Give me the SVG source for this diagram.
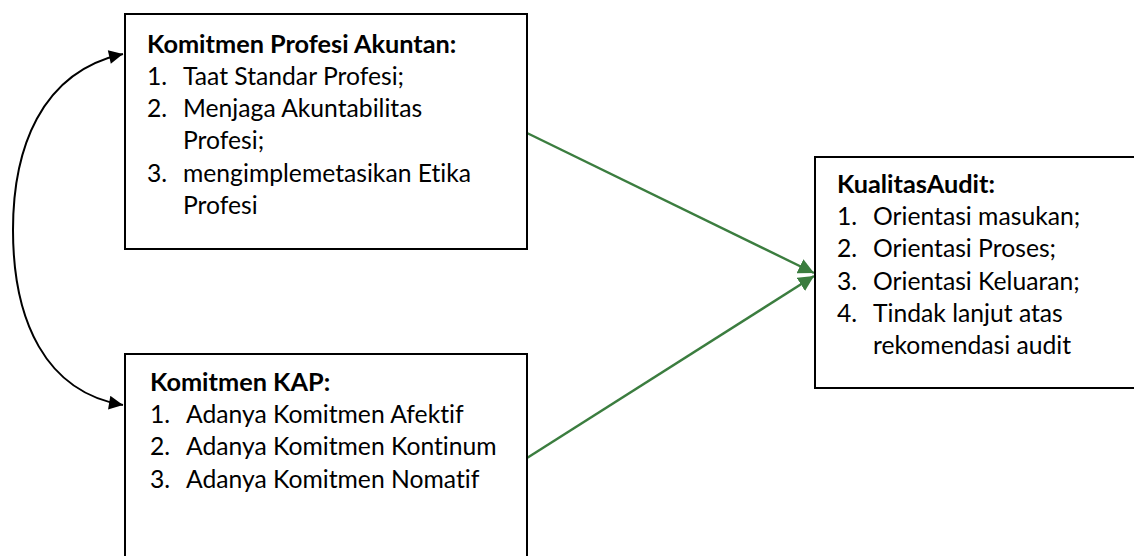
<svg xmlns="http://www.w3.org/2000/svg" width="1134" height="556" viewBox="0 0 1134 556">
  <style>
    .box { fill: #ffffff; stroke: #000000; stroke-width: 2; }
    .t { font-family: Lato, "Open Sans", "Liberation Sans", sans-serif; font-size: 24.7px; fill: #000000; font-variant-ligatures: none; font-feature-settings: "liga" 0, "clig" 0; }
    .h { font-weight: bold; font-size: 25.3px; }
    .link { fill: none; stroke: #3b7d3f; stroke-width: 2.4; }
    .bi { fill: none; stroke: #000000; stroke-width: 2; }
  </style>
  <defs>
    <marker id="arrowGreen" viewBox="0 0 10 10" refX="10" refY="5" markerWidth="6.5" markerHeight="6.5" markerUnits="strokeWidth" orient="auto">
      <path d="M0,0 L10,5 L0,10 Z" fill="#3b7d3f"/>
    </marker>
    <marker id="arrowBlack" viewBox="0 0 10 10" refX="10" refY="5" markerWidth="8.5" markerHeight="7" markerUnits="strokeWidth" orient="auto-start-reverse">
      <path d="M0,0 L10,5 L0,10 Z" fill="#000000"/>
    </marker>
  </defs>

  <rect width="1134" height="556" fill="#ffffff"/>

  <!-- connectors -->
  <g id="connectors">
    <path class="bi" d="M123,54 C40,72 13,150 13,230 C13,320 45,392 123,405" marker-start="url(#arrowBlack)" marker-end="url(#arrowBlack)"/>
    <line class="link" x1="527" y1="133" x2="814" y2="273" marker-end="url(#arrowGreen)"/>
    <line class="link" x1="527" y1="458" x2="814" y2="276" marker-end="url(#arrowGreen)"/>
  </g>

  <!-- Komitmen Profesi Akuntan -->
  <g id="node-profesi">
    <rect class="box" x="125" y="14" width="402" height="235"/>
    <text class="t h" x="147" y="53">Komitmen Profesi Akuntan:</text>
    <text class="t" x="147" y="85">1.</text><text class="t" x="183" y="85">Taat Standar Profesi;</text>
    <text class="t" x="147" y="117">2.</text><text class="t" x="183" y="117">Menjaga Akuntabilitas</text>
    <text class="t" x="183" y="149">Profesi;</text>
    <text class="t" x="147" y="182">3.</text><text class="t" x="183" y="182">mengimplemetasikan Etika</text>
    <text class="t" x="183" y="214">Profesi</text>
  </g>

  <!-- Komitmen KAP -->
  <g id="node-kap">
    <rect class="box" x="125" y="354" width="402" height="220"/>
    <text class="t h" x="150" y="391">Komitmen KAP:</text>
    <text class="t" x="150" y="423">1.</text><text class="t" x="186" y="423">Adanya Komitmen Afektif</text>
    <text class="t" x="150" y="455">2.</text><text class="t" x="186" y="455">Adanya Komitmen Kontinum</text>
    <text class="t" x="150" y="488">3.</text><text class="t" x="186" y="488">Adanya Komitmen Nomatif</text>
  </g>

  <!-- Kualitas Audit -->
  <g id="node-kualitas">
    <rect class="box" x="815" y="157" width="340" height="231"/>
    <text class="t h" x="837" y="193">KualitasAudit:</text>
    <text class="t" x="837" y="225">1.</text><text class="t" x="873" y="225">Orientasi masukan;</text>
    <text class="t" x="837" y="257">2.</text><text class="t" x="873" y="257">Orientasi Proses;</text>
    <text class="t" x="837" y="290">3.</text><text class="t" x="873" y="290">Orientasi Keluaran;</text>
    <text class="t" x="837" y="322">4.</text><text class="t" x="873" y="322">Tindak lanjut atas</text>
    <text class="t" x="873" y="354">rekomendasi audit</text>
  </g>
</svg>
